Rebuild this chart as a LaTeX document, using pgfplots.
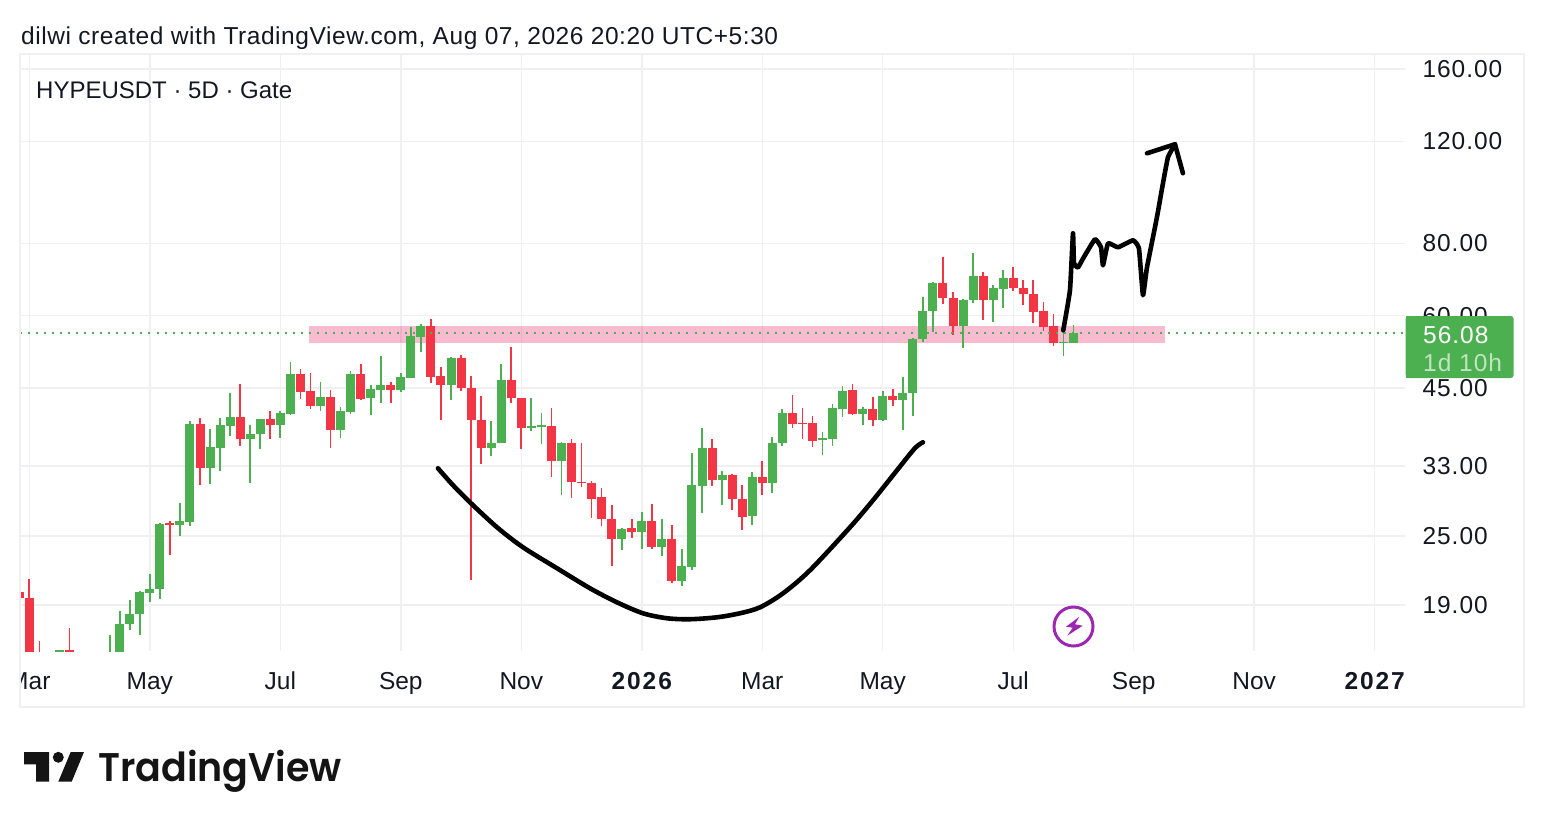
\documentclass[border=0pt]{standalone}
\usepackage{fontspec}
\usepackage{graphicx}
\usepackage{pgfplots}
\usepackage{pgfplotstable}
\pgfplotsset{compat=1.18}
\setmainfont{Liberation Sans}
\newfontfamily\titlef[LetterSpace=2.3]{Liberation Sans}
\newfontfamily\numf[LetterSpace=4]{Liberation Sans}
\newfontfamily\yearf[LetterSpace=8]{Liberation Sans}
\newfontfamily\tvfont{Poppins SemiBold}
\definecolor{cgreen}{HTML}{4CAF50}
\definecolor{cred}{HTML}{F23645}
\definecolor{cgrid}{HTML}{F0F0F2}
\definecolor{cband}{HTML}{E91E63}
\definecolor{cpurple}{HTML}{9C27B0}
\definecolor{ctext}{HTML}{131722}
\pgfplotstableread{
x O H L C
4 15.40 15.90 15.20 15.87
9 15.20 16.83 15.00 15.70
10 15.50 18.55 15.20 17.60
11 17.60 19.40 17.23 18.35
12 18.30 20.08 16.87 19.98
13 19.93 21.47 19.20 20.25
14 20.22 26.29 19.45 26.22
16 26.08 28.46 24.97 26.50
17 26.42 39.43 25.98 39.02
19 32.71 38.31 30.70 35.57
20 35.47 39.95 32.41 38.80
21 38.75 44.08 37.20 40.06
23 36.70 38.92 30.90 37.50
24 37.41 39.86 35.28 39.75
26 38.92 41.03 36.90 40.70
27 40.58 49.86 40.49 47.53
30 41.90 46.10 41.14 43.50
32 38.15 41.80 36.90 41.03
33 40.90 48.10 40.58 47.59
35 43.20 45.50 40.38 44.78
36 44.73 51.12 42.35 45.50
38 44.73 47.84 44.30 47.00
39 46.91 57.30 46.84 55.28
40 55.13 57.98 51.94 57.68
43 45.56 50.99 42.91 50.71
47 35.42 39.54 34.35 36.23
48 36.17 49.42 36.17 46.47
51 38.35 43.25 38.00 38.65
52 38.55 40.80 36.02 38.80
54 33.73 36.32 29.38 36.23
60 24.70 25.79 23.64 25.73
62 25.36 27.49 23.73 26.49
64 23.96 26.78 23.05 24.67
66 20.90 23.77 20.46 22.15
67 22.10 34.82 21.81 30.58
68 30.50 38.40 27.43 35.47
70 31.19 32.32 28.31 31.82
73 27.05 32.24 26.08 31.56
75 30.90 37.00 29.70 36.23
76 36.12 41.47 35.75 40.70
80 36.66 37.80 34.45 36.90
81 36.71 42.24 35.75 41.57
82 41.47 45.37 40.18 44.55
84 40.58 41.80 38.80 41.47
86 39.59 44.55 39.54 43.60
88 42.86 46.96 38.10 44.18
89 44.08 54.92 40.28 54.78
90 54.63 64.61 54.05 61.06
91 61.06 68.70 56.23 68.34
94 57.68 64.11 52.71 63.96
95 63.78 76.98 63.10 70.36
97 63.78 67.70 58.60 66.90
98 66.71 72.07 61.79 69.81
104 53.85 56.38 51.12 54.05
105 53.85 57.92 53.73 56.08
}\greendata
\pgfplotstableread{
x O H L C
0 19.98 19.98 19.51 19.51
1 19.56 21.07 14.95 15.25
2 15.50 16.46 15.00 15.30
5 15.89 17.32 15.30 15.50
15 26.29 26.50 23.17 26.08
18 39.02 39.95 30.65 32.71
22 40.06 45.73 35.75 36.70
25 39.75 41.14 36.81 38.92
28 47.53 48.48 43.03 44.37
29 44.42 47.72 41.47 41.85
31 43.50 44.65 35.47 38.15
34 47.59 49.60 42.91 43.08
37 45.50 46.10 42.47 44.73
41 57.68 59.31 45.91 46.96
42 47.21 48.86 39.64 45.50
44 50.71 51.40 44.48 44.96
45 45.01 47.21 20.98 39.59
46 39.64 43.60 33.28 35.42
49 46.47 52.90 42.40 43.20
50 43.25 43.25 35.38 38.45
53 38.70 41.57 31.65 33.73
55 36.23 36.81 29.07 30.94
56 31.03 36.12 30.33 30.82
57 30.90 31.15 26.81 29.00
58 29.15 30.25 26.00 26.70
59 26.73 28.31 22.17 24.70
61 25.79 26.70 24.77 25.36
63 26.49 28.38 23.73 23.92
65 24.70 26.08 20.73 20.90
69 35.47 36.81 30.50 31.19
71 31.82 31.98 27.71 28.92
72 28.95 30.58 25.59 26.95
74 31.56 33.64 29.47 30.90
77 40.70 43.73 38.40 39.00
78 39.23 41.57 36.71 39.00
79 39.12 40.28 35.66 36.42
83 44.65 45.73 40.49 40.53
85 41.47 43.50 38.70 39.59
87 43.60 44.78 41.85 42.86
92 68.34 75.75 62.96 64.29
93 64.47 66.03 55.50 57.68
96 70.36 71.49 59.07 63.78
99 69.81 72.94 66.18 66.90
100 67.09 69.25 62.52 65.32
101 65.50 69.06 58.28 60.98
102 61.13 63.45 56.38 57.30
103 57.52 60.50 53.15 53.85
}\reddata
\newcommand{\candles}[2]{%
  \addplot[forget plot, draw=none, mark=none, error bars/.cd, y dir=both, y explicit, error mark=none,
    error bar style={draw=#2, line width=1.7pt}]
    table[x=x, y=C, y error plus expr={\thisrow{H}-\thisrow{C}}, y error minus expr={\thisrow{C}-\thisrow{L}}]{#1};
  \addplot[forget plot, draw=none, mark=none, error bars/.cd, y dir=both, y explicit, error mark=none,
    error bar style={draw=#2, line width=9pt}]
    table[x=x, y=C, y error plus expr={max(\thisrow{O}-\thisrow{C},0)}, y error minus expr={max(\thisrow{C}-\thisrow{O},0)}]{#1};
}
\begin{document}
\begin{tikzpicture}[x=1pt,y=1pt]
\path[use as bounding box] (0,0) rectangle (1544,-828);
\draw[cgrid, line width=1.2pt] (20,-54) rectangle (1524,-707);
\begin{axis}[
  at={(20pt,-651pt)}, anchor=south west,
  scale only axis, width=1385pt, height=597pt,
  ymode=log, xmin=0.07, xmax=138.02, ymin=15.82, ymax=169.8,
  axis line style={draw=none},
  major tick length=0pt, tick style={draw=none},
  xmajorgrids, ymajorgrids, yminorticks=false, yminorgrids=false,
  grid style={cgrid, line width=1.5pt},
  xtick={1,13,26,38,50,62,74,86,99,111,123,135},
  xticklabels={Mar,May,Jul,Sep,Nov,{\yearf\bfseries 2026},Mar,May,Jul,Sep,Nov,{\yearf\bfseries 2027}},
  ytick={19,25,33,45,60,80,120,160},
  yticklabels={19.00,25.00,33.00,45.00,60.00,80.00,120.00,160.00},
  yticklabel pos=right,
  tick label style={font=\fontsize{24.5}{29}\selectfont, text=ctext},
  x tick label style={anchor=base, yshift=-38pt},
  y tick label style={anchor=west, xshift=14pt, font=\numf\fontsize{24.5}{29}\selectfont},
]
% support zone
\addplot[forget plot, draw=none, fill=cband, fill opacity=0.3]
  coordinates {(28.85,53.75)(114.1,53.75)(114.1,57.68)(28.85,57.68)} --cycle;
\candles{\greendata}{cgreen}
\candles{\reddata}{cred}
% last price line
\addplot[forget plot, cgreen, line width=1.8pt, dash pattern=on 2pt off 6.03pt]
  coordinates {(0.07,56.08)(138.02,56.08)};
% hand-drawn cup
\addplot[forget plot, black, line width=4.6pt, smooth, tension=0.5, line cap=round, line join=round] coordinates {
(41.70,32.71)(43.20,30.58)(44.89,28.57)(47.58,25.87)(50.17,23.89)(53.56,21.98)(56.84,20.30)
(59.53,19.20)(62.12,18.38)(64.51,18.02)(66.80,17.95)(69.49,18.09)(71.78,18.38)(73.77,18.82)
(76.07,19.90)(78.76,21.81)(82.74,25.87)(85.03,28.80)(87.42,32.45)(89.20,35.42)(90.01,36.27)};
% hand-drawn path and arrow
\addplot[forget plot, black, line width=4.6pt, smooth, tension=0.22, line cap=round, line join=round] coordinates {
(103.98,56.61)(104.65,66.37)(104.95,83.24)(105.05,73.9)(105.45,72.7)(105.95,75.3)(107.14,81.3)
(107.74,78.75)(107.94,73.3)(108.44,80)(109.43,78.75)(110.93,80.96)(111.52,78.4)(111.92,65.07)
(112.32,72.7)(113.31,88.7)(113.91,101.5)(114.41,112.6)(115.11,118.6)};
\addplot[forget plot, black, line width=4.6pt, line cap=round, line join=round] coordinates {
(112.32,114.4)(115.11,118.6)(115.9,105.7)};
\end{axis}
% left edge mask for the clipped Mar label
\fill[white] (0,-655) rectangle (19.4,-705);
\draw[cgrid, line width=1.2pt] (20,-54) -- (20,-707);
% legend text
\node[anchor=base west, inner sep=0pt, text=ctext, font=\fontsize{24}{29}\selectfont] at (36,-98) {HYPEUSDT · 5D · Gate};
\node[anchor=base west, inner sep=0pt, text=ctext, font=\titlef\fontsize{24.5}{29}\selectfont] at (21,-44) {dilwi created with TradingView.com, Aug 07, 2026 20:20 UTC+5:30};
% price tag
\fill[cgreen, rounded corners=3pt] (1405.7,-316) rectangle (1513.7,-378);
\fill[cgreen] (1405.7,-316) rectangle (1412,-378);
\node[anchor=base west, inner sep=0pt, text=white, font=\numf\fontsize{24.5}{29}\selectfont] at (1423,-343) {56.08};
\node[anchor=base west, inner sep=0pt, text=white, text opacity=0.65, font=\numf\fontsize{24.5}{29}\selectfont] at (1423,-371) {1d 10h};
% lightning icon
\draw[cpurple, line width=3pt] (1073.5,-626.5) circle (19.5);
\fill[cpurple] (1079.3,-616.7) -- (1066,-626.7) -- (1072.7,-627.7) -- (1067.3,-635.7) -- (1082.7,-625.7) -- (1075,-624.3) -- cycle;
% TradingView logo
\fill[black!92] (24,-752) -- (49,-752) -- (49,-781.7) -- (36,-781.7) -- (36,-764.3) -- (24,-764.3) -- cycle;
\fill[black!92] (58.3,-757.3) circle (5.5);
\fill[black!92] (70.7,-752) -- (84,-752) -- (71.7,-781.7) -- (58.3,-781.7) -- cycle;
\node[anchor=base west, inner sep=0pt, text=black!92, font=\tvfont\fontsize{40}{46}\selectfont] at (98,-781.7) {\scalebox{0.95}[1]{TradingView}};
\end{tikzpicture}
\end{document}
